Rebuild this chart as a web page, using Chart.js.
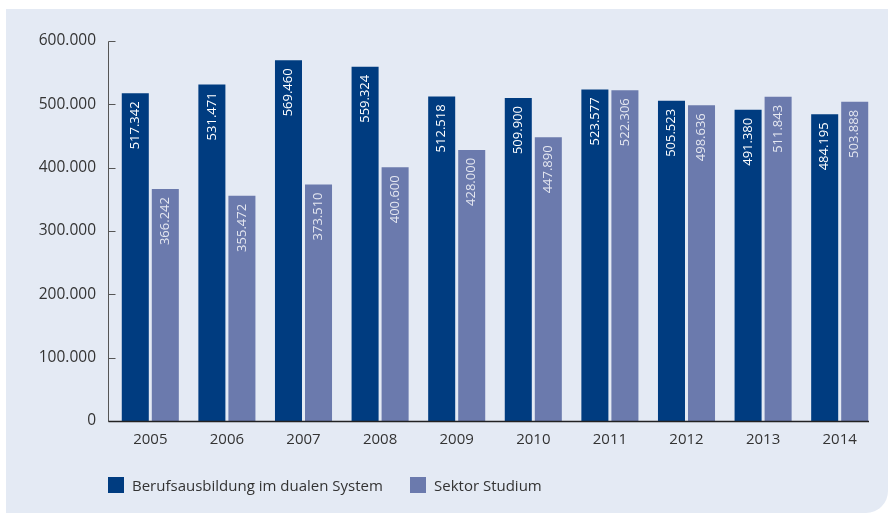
<!DOCTYPE html>
<html>
<head>
<meta charset="utf-8">
<script src="https://cdn.jsdelivr.net/npm/chart.js@4/dist/chart.umd.min.js"></script>
<style>
  html, body { margin: 0; padding: 0; background: #fff; }
  #wrap { position: relative; width: 888px; height: 513px; }
  #panel { position: absolute; left: 6px; top: 9px; right: 0; bottom: 0; background: #e4eaf4; border-bottom-right-radius: 22px; }
  #chart { position: absolute; left: 0; top: 0; }
  #legend { font: 15px "Open Sans", sans-serif; color: #333; }
  #legend span.item { position: absolute; top: 477px; display: flex; align-items: center; line-height: 16px; white-space: nowrap; }
  #legend span.box { width: 16px; height: 16px; margin-right: 8px; display: inline-block; }
</style>
</head>
<body>
<div id="wrap">
  <div id="panel"></div>
  <canvas id="chart" width="888" height="513"></canvas>
  <div id="legend"></div>
</div>
<script>
const years = ["2005", "2006", "2007", "2008", "2009", "2010", "2011", "2012", "2013", "2014"];
const dualesSystem = [517342, 531471, 569460, 559324, 512518, 509900, 523577, 505523, 491380, 484195];
const studium = [366242, 355472, 373510, 400600, 428000, 447890, 522306, 498636, 511843, 503888];
const seriesNames = ["Berufsausbildung im dualen System", "Sektor Studium"];
const seriesColors = ["#003c80", "#6b7aad"];

// German thousands separator
function fmt(v) {
  return String(v).replace(/\B(?=(\d{3})+(?!\d))/g, ".");
}

// value labels, rotated, at the top inside each bar
const barLabels = {
  id: "barLabels",
  afterDatasetsDraw(chart) {
    const ctx = chart.ctx;
    chart.data.datasets.forEach((ds, i) => {
      const meta = chart.getDatasetMeta(i);
      meta.data.forEach((bar, j) => {
        ctx.save();
        ctx.translate(bar.x, bar.y + 8);
        ctx.rotate(-Math.PI / 2);
        ctx.font = '13px "Open Sans", sans-serif';
        ctx.fillStyle = i === 0 ? "#ffffff" : "rgba(255,255,255,0.82)";
        ctx.textAlign = "right";
        ctx.textBaseline = "middle";
        ctx.fillText(fmt(ds.data[j]), 0, 0);
        ctx.restore();
      });
    });
  }
};

// axis lines (sit a bit left of the plot area) and short inward ticks
const axisLines = {
  id: "axisLines",
  afterDraw(chart) {
    const y = chart.scales.y;
    const ctx = chart.ctx;
    const x0 = 108.5;
    const bottom = Math.round(y.getPixelForValue(0)) + 0.5;
    ctx.save();
    ctx.strokeStyle = "#555";
    ctx.lineWidth = 1;
    ctx.beginPath();
    ctx.moveTo(x0, Math.round(y.getPixelForValue(600000)) + 0.5);
    ctx.lineTo(x0, bottom);
    ctx.stroke();
    y.ticks.forEach((t) => {
      const py = Math.round(y.getPixelForValue(t.value)) + 0.5;
      ctx.beginPath();
      ctx.moveTo(x0, py);
      ctx.lineTo(x0 + 7, py);
      ctx.stroke();
    });
    ctx.strokeStyle = "#222";
    ctx.lineWidth = 1.5;
    ctx.beginPath();
    ctx.moveTo(x0, bottom);
    ctx.lineTo(869, bottom);
    ctx.stroke();
    ctx.restore();
  }
};

new Chart(document.getElementById("chart"), {
  type: "bar",
  data: {
    labels: years,
    datasets: [
      { label: seriesNames[0], data: dualesSystem, backgroundColor: seriesColors[0] },
      { label: seriesNames[1], data: studium, backgroundColor: seriesColors[1] }
    ]
  },
  options: {
    responsive: false,
    animation: false,
    datasets: {
      bar: { categoryPercentage: 0.784, barPercentage: 0.9 }
    },
    layout: { padding: { top: 41, right: 10, bottom: 62, left: 0 } },
    plugins: {
      legend: { display: false },
      tooltip: { enabled: false }
    },
    scales: {
      x: {
        grid: { display: false, drawTicks: false },
        border: { display: false },
        ticks: { color: "#333", padding: 10, font: { family: "Open Sans", size: 15 } },
        afterFit: (s) => { s.height = 30; }
      },
      y: {
        min: 0,
        max: 600000,
        grid: { display: false, drawTicks: false },
        border: { display: false },
        ticks: {
          stepSize: 100000,
          color: "#333",
          padding: 16,
          font: { family: "Open Sans", size: 15.5 },
          callback: (v) => fmt(v)
        },
        afterFit: (s) => { s.width = 112; }
      }
    }
  },
  plugins: [barLabels, axisLines]
});

// legend
const legend = document.getElementById("legend");
const legendX = [108, 410];
seriesNames.forEach((name, i) => {
  const item = document.createElement("span");
  item.className = "item";
  item.style.left = legendX[i] + "px";
  const box = document.createElement("span");
  box.className = "box";
  box.style.background = seriesColors[i];
  item.appendChild(box);
  item.appendChild(document.createTextNode(name));
  legend.appendChild(item);
});
</script>
</body>
</html>
